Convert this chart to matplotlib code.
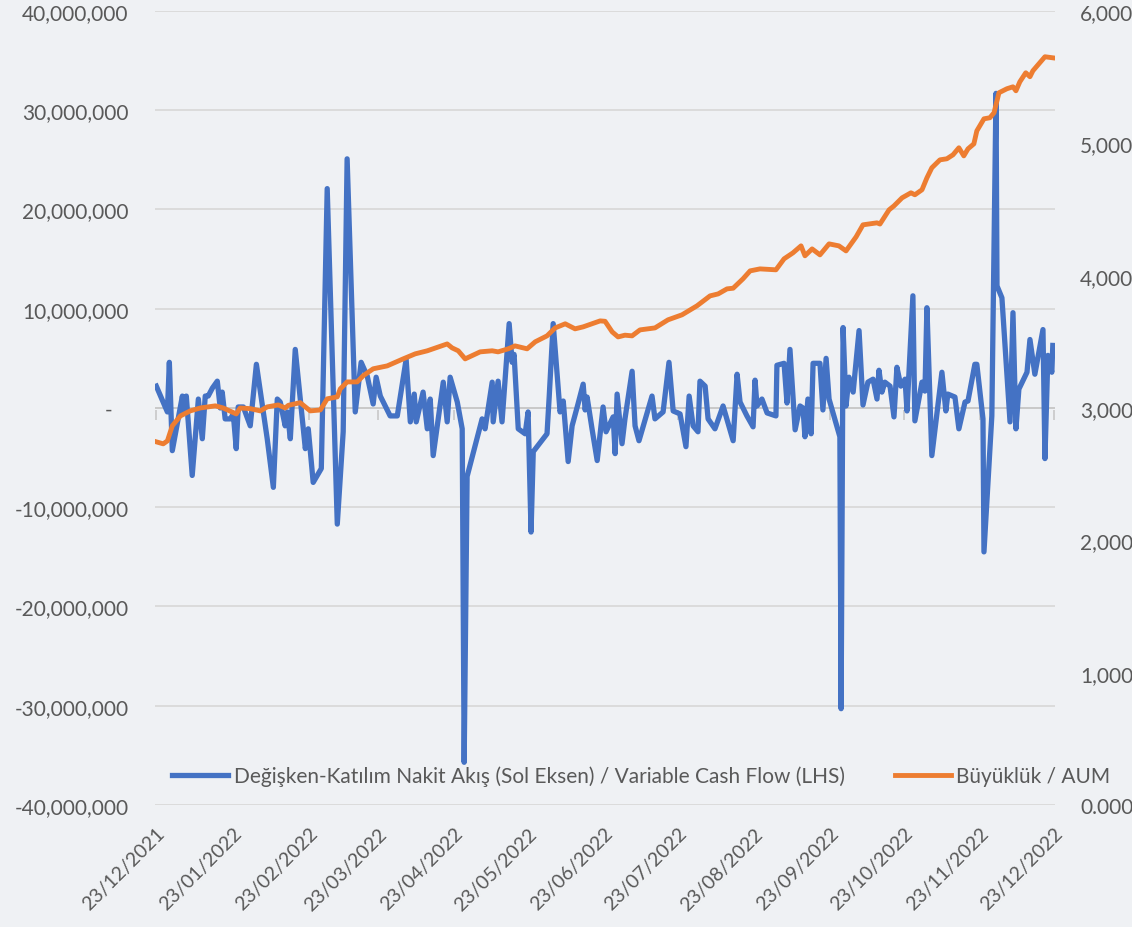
import matplotlib
matplotlib.use("Agg")
import matplotlib.pyplot as plt
from matplotlib.ticker import FixedLocator
import pandas as pd

plt.rcParams['font.family'] = ['Lato', 'DejaVu Sans']

start = pd.Timestamp('2021-12-23')

# Nakit akış: gün (23/12/2021'den itibaren) ve değer (milyon)
cf_day = [0, 4.5, 5.3, 6.5, 10.6, 11.2, 12.2, 14.6, 17.1, 18.7, 19.9, 21.1, 22.8, 24.8, 26, 26.8,
          28, 30.1, 31.3, 32.5, 33.3, 35.4, 38.2, 40.7, 45.1, 47.6, 49.2, 50.4, 52.4, 53.3, 54.5,
          56.5, 60.6, 61.8, 63.8, 67.1, 69.5, 73.6, 76, 77.6, 80.9, 83.3, 85.8, 88.2, 89.4, 91.1,
          95.1, 98, 101.6, 103.3, 104.9, 105.7, 108.5, 110.2, 111.4, 112.6, 116.7, 118.3, 119.5,
          122.4, 124.4, 125.2, 126.4, 132.5, 133.7, 136.6, 137, 139, 140.6, 143.5, 144.7, 145.5,
          147.2, 150, 151.2, 152.4, 153.3, 158.9, 159.8, 161.4, 164.2, 165.5, 167.5, 169.1, 171.5,
          173.6, 174.4, 175.2, 177.2, 179.3, 181.7, 182.9, 185.8, 186.6, 187.4, 189.4, 190.6,
          193.5, 194.7, 196.3, 201.6, 202.8, 206.1, 208.5, 210.2, 213, 215.4, 216.7, 218.3, 220.3,
          221.1, 223.2, 224.4, 227.2, 230.5, 234.6, 236.2, 237.4, 240.2, 242.7, 243.5, 244.3,
          246.3, 248.4, 252, 252.4, 255.3, 256.5, 257.7, 259.8, 261.8, 263, 263.8, 265, 266.3,
          267.1, 269.9, 271.1, 272.4, 273.6, 278, 278.5, 279.3, 280.5, 281.7, 283.4, 285.8, 287.4,
          289.4, 291.5, 293.1, 293.9, 295.1, 296.3, 298.4, 300, 301.2, 302.8, 304.5, 305.3, 307.7,
          308.5, 311.4, 312.6, 313.4, 315.4, 319.5, 321.1, 321.9, 324.8, 326.4, 328.9, 330.1,
          332.9, 333.7, 336.2, 336.6, 339.8, 341.5, 341.9, 343.9, 347.2, 348.4, 349.6, 350.8,
          354.1, 355.3, 357.3, 360.6, 361.4, 362.6, 364.2, 364.6]
cf_mn = [2.2, -0.4, 4.6, -4.3, 1.2, -0.5, 1.2, -6.8, 0.9, -3.1, 1.2, 1.2, 2.0, 2.7, 0.0, 1.6,
         -1.1, -1.1, -0.6, -4.1, 0.1, 0.1, -1.8, 4.4, -3.1, -8.0, 0.9, 0.6, -1.8, -0.4, -3.1,
         5.9, -4.1, -2.1, -7.5, -6.1, 22.1, -11.7, -2.4, 25.1, -0.4, 4.6, 3.2, 0.4, 3.1, 1.2,
         -0.8, -0.8, 4.9, -1.4, 1.4, -1.4, 1.6, -2.1, 0.9, -4.8, 2.6, -1.4, 3.1,
         0.6, -2.1, -35.7, -6.9, -1.1, -2.1, 2.6, -1.4, 2.7, -1.4, 8.5, 4.6, 5.4,
         -2.1, -2.6, -0.4, -12.5, -4.4, -2.6, 1.2, 8.5, -0.4, 0.7, -5.4, -1.8, 0.4,
         2.4, -0.2, 1.1, -2.1, -5.3, 0.1, -2.4, -0.9, -4.6, 1.4, -3.6, -1.1,
         3.7, -1.8, -3.3, 1.2, -1.1, -0.4, 4.6, -0.3, -0.6, -3.9, 1.2, -1.8, -2.4,
         2.7, 2.2, -1.1, -2.1, 0.2, -3.3, 3.4, 0.6, -0.8, -1.9, 2.8, 0.2,
         0.9, -0.5, -0.8, 4.3, 4.5, 0.5, 5.9, -2.2, 0.2, 0.0, -2.9, 0.9, -2.6,
         4.5, 4.5, -0.2, 5.0, 0.9, -2.9, -30.3, 8.1, 0.2, 3.1, 1.6, 7.8, 0.3,
         2.6, 2.9, 0.9, 3.8, 1.6, 2.6, 2.2, -0.9, 4.1, 2.2, 2.9, -0.3, 11.3,
         -1.3, 2.6, 1.7, 10.1, -4.8, 3.6, -0.3, 1.4, 1.1, -2.1, 0.6, 0.7,
         4.4, 4.4, -1.1, -14.5, -0.8, 31.7, 12.3, 11.1, -1.4, 9.6, -2.1, 1.9,
         3.6, 6.9, 3.4, 7.9, -5.1, 5.3, 3.6, 6.3]

# Büyüklük (AUM)
aum_day = [0, 2.8, 4.5, 6.5, 9.8, 13.8, 17.9, 24, 27.2, 32.5, 34.1, 38.2, 42.3, 45.1, 49.6, 52.4,
           53.7, 58.5, 62.6, 66.7, 69.5, 73.6, 74.8, 77.6, 81.7, 84.1, 88.2, 93.9, 100.4, 105.3,
           110.2, 118.3, 120.3, 122.8, 125.6, 131.7, 136.6, 139, 143.1, 145.9, 150.8, 154.1,
           158.9, 162.2, 166.3, 170.3, 173.6, 180.5, 182.5, 185.4, 187.8, 190.6, 193.5, 196.7,
           202.8, 208.1, 213.8, 219.9, 225.2, 228.5, 232.1, 234.6, 238.6, 241.5, 245.5, 252,
           255.3, 258.9, 262.2, 263.8, 266.7, 269.9, 273.6, 277.6, 280.5, 284.6, 287.4, 293.1,
           294.3, 298, 300, 303.3, 306.9, 308.5, 311.4, 313.4, 315.4, 318.7, 321.5, 324, 326.4,
           328.4, 330.1, 332.5, 333.7, 336.6, 339, 340.7, 342.7, 345.9, 348.4, 349.6, 351.2,
           353.6, 355.3, 356.5, 361.4, 364.6]
aum = [2744, 2729, 2751, 2865, 2940, 2978, 3000, 3016, 3000, 2955, 3000, 2995, 2978, 3008, 3023, 3000,
       3020, 3040, 2978, 2985, 3069, 3084, 3144, 3197, 3197, 3243, 3296, 3318, 3371, 3409,
       3432, 3484, 3454, 3432, 3371, 3424, 3432, 3424, 3447, 3469, 3447, 3500,
       3545, 3605, 3636, 3598, 3613, 3658, 3655, 3575, 3537, 3550, 3545, 3590,
       3605, 3666, 3704, 3772, 3847, 3862, 3900, 3905, 3976, 4036, 4051, 4044,
       4127, 4172, 4225, 4150, 4202, 4157, 4240, 4225, 4187, 4293, 4384, 4399,
       4390, 4497, 4527, 4588, 4626, 4611, 4649, 4739, 4815, 4875, 4883, 4913, 4966,
       4905, 4958, 4996, 5094, 5185, 5193, 5231, 5382, 5412, 5427, 5397, 5465,
       5533, 5503, 5548, 5654, 5646]

left_ticks = [40e6, 30e6, 20e6, 10e6, 0, -10e6, -20e6, -30e6, -40e6]
left_labels = ['40,000,000', '30,000,000', '20,000,000', '10,000,000', '-   ',
               '-10,000,000', '-20,000,000', '-30,000,000', '-40,000,000']
right_ticks = [0, 1000, 2000, 3000, 4000, 5000, 6000]
right_labels = ['0.000', '1,000', '2,000', '3,000', '4,000', '5,000', '6,000']
month_ticks = pd.date_range('2021-12-23', '2022-12-23', freq=pd.DateOffset(months=1))

label_cf = 'Değişken-Katılım Nakit Akış (Sol Eksen) / Variable Cash Flow (LHS)'
label_aum = 'Büyüklük / AUM'

BLUE = '#4472C4'
ORANGE = '#ED7D31'
GRAY = '#595959'
BG = '#eff1f4'

cf_dates = start + pd.to_timedelta(cf_day, unit='D')
aum_dates = start + pd.to_timedelta(aum_day, unit='D')
cf_vals = [v * 1e6 for v in cf_mn]

fig = plt.figure(figsize=(11.32, 9.28), dpi=100, facecolor=BG)
ax = fig.add_axes([0.137, 0.1315, 0.795, 0.8556])
ax.set_facecolor('none')
ax2 = ax.twinx()

l1, = ax.plot(cf_dates, cf_vals, color=BLUE, lw=3.8, solid_joinstyle='round', label=label_cf)
l2, = ax2.plot(aum_dates, aum, color=ORANGE, lw=3.5, solid_joinstyle='round', label=label_aum)

ax.set_ylim(-40e6, 40e6)
ax2.set_ylim(0, 6000)
ax.set_xlim(start - pd.Timedelta(days=0.5), pd.Timestamp('2022-12-23') + pd.Timedelta(days=0.5))

for y in left_ticks:
    ax.axhline(y, color='#d9d9d9', lw=1.3, zorder=0)
# yatay eksen sıfırda
ax.axhline(0, color='#c8c8c8', lw=1.3, zorder=0.5)
ax.plot(month_ticks, [-0.7e6] * len(month_ticks), ls='', marker='|', ms=7, mew=1.2,
        color='#c8c8c8', zorder=0.5)

ax.yaxis.set_major_locator(FixedLocator(left_ticks))
ax.set_yticklabels(left_labels)
ax2.yaxis.set_major_locator(FixedLocator(right_ticks))
ax2.set_yticklabels(right_labels)

ax.set_xticks(month_ticks)
ax.set_xticklabels([d.strftime('%d/%m/%Y') for d in month_ticks], rotation=45,
                   ha='right', rotation_mode='anchor')

for a in (ax, ax2):
    for s in a.spines.values():
        s.set_visible(False)
    a.tick_params(axis='both', length=0, labelsize=15, labelcolor=GRAY)
ax.tick_params(axis='x', labelsize=14, pad=14)
ax.tick_params(axis='y', pad=19)
ax2.tick_params(axis='y', pad=18)

leg = ax2.legend(handles=[l1, l2], loc='center left', bbox_to_anchor=(0.019, 0.0365),
                 ncol=2, frameon=False, fontsize=15, handlelength=2.7, handletextpad=0.25,
                 columnspacing=2.4, borderpad=0, borderaxespad=0)
for t in leg.get_texts():
    t.set_color(GRAY)

fig.savefig('out.png', dpi=100, facecolor=BG)
